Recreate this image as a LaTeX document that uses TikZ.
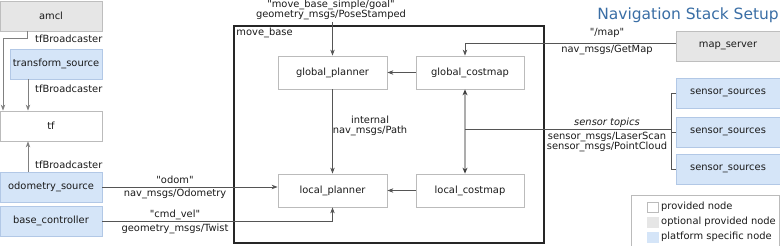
\documentclass[tikz,border=0pt]{standalone}
\usepackage{fontspec}
\setmainfont{DejaVu Sans}[Ligatures=TeXOff]
\usetikzlibrary{arrows.meta,calc}
\definecolor{txt}{HTML}{1A1A1A}
\definecolor{wbord}{HTML}{BBBBBB}
\definecolor{gfill}{HTML}{E6E6E6}
\definecolor{gbord}{HTML}{BEBEBE}
\definecolor{bfill}{HTML}{D5E5F8}
\definecolor{bbord}{HTML}{B2C8E6}
\definecolor{lnk}{HTML}{555555}
\definecolor{tfl}{HTML}{808080}
\definecolor{titleblue}{HTML}{3A6EA5}
\tikzset{
  base/.style={font=\fontsize{9.9}{10}\selectfont, text=txt},
  box/.style={base, draw=wbord, fill=white, line width=0.8pt, inner sep=0pt, minimum height=30pt},
  provided/.style={box},
  optional/.style={box, draw=gbord, fill=gfill},
  platform/.style={box, draw=bbord, fill=bfill},
  lbl/.style={base, inner sep=0pt, align=center},
  conn/.style={draw=lnk, line width=0.8pt, -{Stealth[length=6pt,width=4.5pt]}},
  plain/.style={draw=lnk, line width=0.8pt},
  tfarrow/.style={draw=tfl, line width=0.9pt, -{Stealth[length=6pt,width=4.5pt]}},
  dbl/.style={draw=black!32, line width=1.6pt, {Stealth[length=6pt,width=5pt,color=black!75]}-{Stealth[length=6pt,width=5pt,color=black!75]}},
}
\begin{document}
\begin{tikzpicture}[x=1pt,y=-1pt]
\useasboundingbox (0,0) rectangle (780,246);

% left column
\node[optional, minimum width=102pt] (amcl) at (51,16) {amcl};
\node[platform, minimum width=92pt] (transform_source) at (56,64) {transform\_source};
\node[provided, minimum width=102pt] (tf) at (51,126) {tf};
\node[platform, minimum width=102pt] (odometry_source) at (51,187) {odometry\_source};
\node[platform, minimum width=102pt] (base_controller) at (51,221) {base\_controller};

% move_base frame
\node[draw=black!85, line width=1.5pt, minimum width=310pt, minimum height=217pt, inner sep=0pt] (move_base) at (389,134.5) {};
\node[lbl, anchor=north west] (mblabel) at ([xshift=3pt,yshift=-3pt]move_base.north west) {move\_base};

\node[provided, minimum width=109pt, minimum height=33pt] (global_planner) at (332.5,72.5) {global\_planner};
\node[provided, minimum width=108pt, minimum height=33pt] (global_costmap) at (470,72.5) {global\_costmap};
\node[provided, minimum width=109pt, minimum height=33pt] (local_planner) at (332.5,190.5) {local\_planner};
\node[provided, minimum width=108pt, minimum height=33pt] (local_costmap) at (470,190.5) {local\_costmap};

% right column
\node[optional, minimum width=104pt] (map_server) at (728,46) {map\_server};
\node[platform, minimum width=104pt] (s1) at (728,93) {sensor\_sources};
\node[platform, minimum width=104pt] (s2) at (728,132) {sensor\_sources};
\node[platform, minimum width=104pt] (s3) at (728,169) {sensor\_sources};

% title
\node[inner sep=0pt, anchor=east, font=\fontsize{15.5}{16}\selectfont, text=titleblue] (title) at (779,15) {Navigation Stack Setup};

% legend
\node[draw=wbord, line width=0.8pt, fill=white, minimum width=148pt, minimum height=52pt, inner sep=0pt] (legend) at (705,221) {};
\node[draw=wbord, fill=white, line width=0.5pt, minimum width=11pt, minimum height=10pt, inner sep=0pt] (lw) at (652.5,207.5) {};
\node[draw=gfill, fill=gfill, line width=0.5pt, minimum width=11pt, minimum height=10pt, inner sep=0pt] (lg) at (652.5,222) {};
\node[draw=bfill, fill=bfill, line width=0.5pt, minimum width=11pt, minimum height=10pt, inner sep=0pt] (lb) at (652.5,237) {};
\node[lbl, anchor=west] (lwt) at (661,206.5) {provided node};
\node[lbl, anchor=west] (lgt) at (661,222) {optional provided node};
\node[lbl, anchor=west] (lbt) at (661,237) {platform specific node};

% coordinates
\coordinate (tfx) at (28,0);
\coordinate (goal) at (332.5,22);
\coordinate (sj) at (465,129);
\coordinate (br) at (671,0);

% tf connections
\draw[tfarrow] ([xshift=-24pt]amcl.south) -- ++(0,7) -| ([xshift=-48pt]tf.north);
\draw[tfarrow] (transform_source.south -| tfx) -- (tf.north -| tfx);
\draw[tfarrow] (odometry_source.north -| tfx) -- (tf.south -| tfx);
\node[lbl, anchor=west] (tfb1) at (35,39) {tfBroadcaster};
\node[lbl, anchor=west] (tfb2) at (35,89) {tfBroadcaster};
\node[lbl, anchor=west] (tfb3) at (35,165) {tfBroadcaster};

% odom / cmd_vel
\draw[conn] (odometry_source.east) -- (odometry_source.east -| local_planner.west);
\node[lbl] (odoml) at (175,180) {"odom"};
\node[lbl] (odoml2) at (175,194) {nav\_msgs/Odometry};
\draw[conn] (base_controller.east) -| (local_planner.south);
\node[lbl] (cmdl) at (175,215) {"cmd\_vel"};
\node[lbl] (cmdl2) at (175,229) {geometry\_msgs/Twist};

% goal
\draw[conn] (goal) -- (global_planner.north);
\node[lbl, anchor=south] (goall) at (331,20) {"move\_base\_simple/goal"\\geometry\_msgs/PoseStamped};

% internal
\draw[conn] (global_costmap.west) -- (global_planner.east);
\draw[conn] (local_costmap.west) -- (local_planner.east);
\draw[conn] (global_planner.south) -- (local_planner.north);
\node[lbl] (intl) at (370,126) {internal\\nav\_msgs/Path};
\draw[dbl] ([xshift=-5pt]global_costmap.south) -- ([xshift=-5pt]local_costmap.north);

% map
\draw[conn] ([yshift=3pt]map_server.west) -| ([xshift=-5pt]global_costmap.north);
\node[lbl] (mapl) at (607,33) {"/map"};
\node[lbl] (mapl2) at (607,50) {nav\_msgs/GetMap};

% sensors
\draw[plain] (sj) -- (sj -| br);
\draw[plain] (s1.west) -- (s1.west -| br) -- (s3.west -| br) -- (s3.west);
\draw[plain] (s2.west) -- (s2.west -| br);
\node[lbl, font=\fontsize{9.9}{10}\selectfont\itshape] (senl) at (607,123) {sensor topics};
\node[lbl] (senl2) at (607,142) {sensor\_msgs/LaserScan\\sensor\_msgs/PointCloud};
\end{tikzpicture}
\end{document}
